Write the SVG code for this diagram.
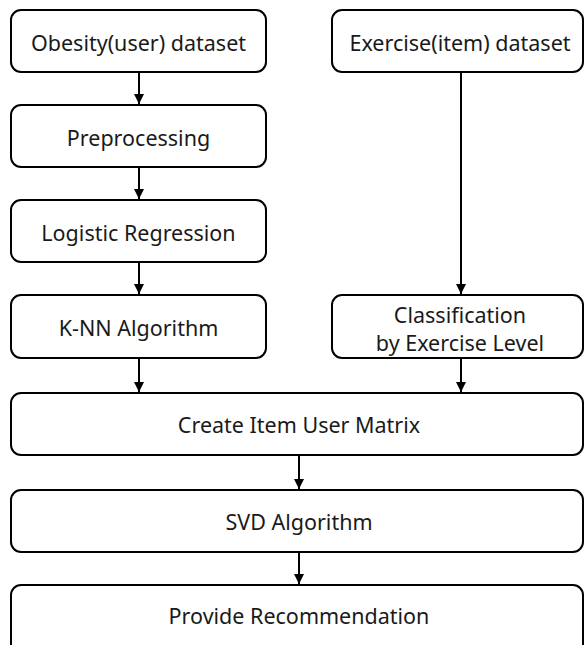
<svg xmlns="http://www.w3.org/2000/svg" width="585" height="645" viewBox="0 0 585 645">
<defs>
<style>
.box{fill:#fff;stroke:#000;stroke-width:2}
.t{font-family:"Noto Sans","DejaVu Sans",sans-serif;font-size:21.5px;fill:#1a1a1a;text-anchor:middle;dominant-baseline:central}
.c{stroke:#000;stroke-width:2;fill:none;marker-end:url(#ah)}
</style>
<marker id="ah" viewBox="0 0 10 10" refX="10" refY="5" markerWidth="5" markerHeight="5" orient="auto" markerUnits="strokeWidth">
<path d="M0,0 L10,5 L0,10 z" fill="#000"/>
</marker>
</defs>
<rect width="585" height="645" fill="#fff"/>
<g id="connectors">
<line class="c" x1="139" y1="72" x2="139" y2="104"/>
<line class="c" x1="139" y1="167" x2="139" y2="199"/>
<line class="c" x1="139" y1="262" x2="139" y2="294"/>
<line class="c" x1="139" y1="358" x2="139" y2="392"/>
<line class="c" x1="461" y1="72" x2="461" y2="294"/>
<line class="c" x1="461" y1="358" x2="461" y2="392"/>
<line class="c" x1="299" y1="455" x2="299" y2="489"/>
<line class="c" x1="299" y1="552" x2="299" y2="584"/>
</g>
<g id="obesity"><rect class="box" x="11" y="10" width="255" height="62" rx="10"/><text class="t" x="138.5" y="42">Obesity(user) dataset</text></g>
<g id="exercise"><rect class="box" x="332" y="10" width="251" height="62" rx="10"/><text class="t" x="460" y="42">Exercise(item) dataset</text></g>
<g id="preprocessing"><rect class="box" x="11" y="105" width="255" height="62" rx="10"/><text class="t" x="138.5" y="137">Preprocessing</text></g>
<g id="logistic"><rect class="box" x="11" y="200" width="255" height="62" rx="10"/><text class="t" x="138.5" y="232">Logistic Regression</text></g>
<g id="knn"><rect class="box" x="11" y="295" width="255" height="63" rx="10"/><text class="t" x="138.5" y="327">K-NN Algorithm</text></g>
<g id="classification"><rect class="box" x="332" y="295" width="251" height="63" rx="10"/><text class="t" x="460" y="314">Classification</text><text class="t" x="460" y="342">by Exercise Level</text></g>
<g id="matrix"><rect class="box" x="11" y="393" width="572" height="62" rx="10"/><text class="t" x="299" y="424">Create Item User Matrix</text></g>
<g id="svd"><rect class="box" x="11" y="490" width="572" height="62" rx="10"/><text class="t" x="299" y="521">SVD Algorithm</text></g>
<g id="provide"><rect class="box" x="11" y="585" width="572" height="70" rx="10"/><text class="t" x="299" y="615">Provide Recommendation</text></g>
</svg>
